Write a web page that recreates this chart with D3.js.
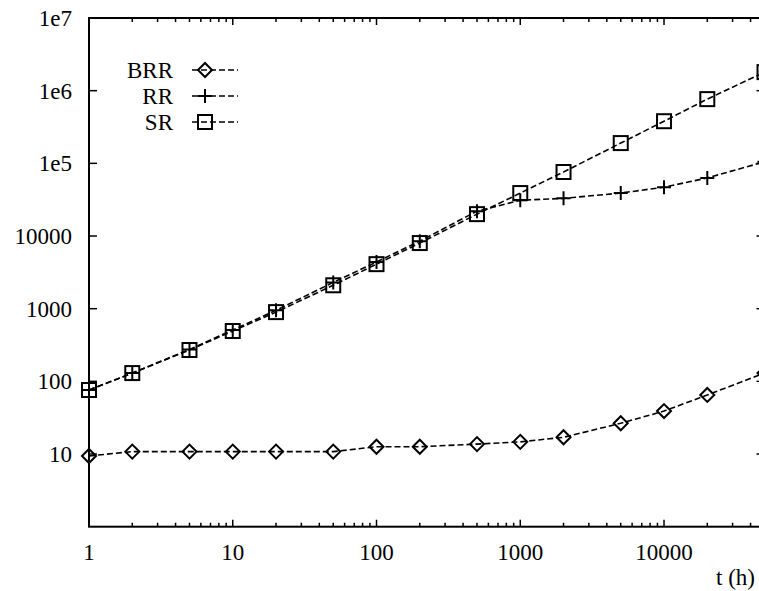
<!DOCTYPE html>
<html lang="en">
<head>
  <meta charset="UTF-8">
  <title>BRR / RR / SR</title>
  <script src="https://cdn.jsdelivr.net/npm/d3@7"></script>
  <style>
    * { margin: 0; padding: 0; }
    body { background: #fff; overflow: hidden; }
    svg { display: block; }
    text { font-family: "Liberation Serif", "DejaVu Serif", serif; font-size: 23px; fill: #000; }
  </style>
</head>
<body>
  <div id="chart"></div>
  <script>
  // data
  var hours = [1, 2, 5, 10, 20, 50, 100, 200, 500, 1000, 2000, 5000, 10000, 20000, 50000];
  var brr = [9.4, 10.8, 10.8, 10.8, 10.8, 10.8, 12.6, 12.6, 13.7, 14.7, 17, 26.5, 39, 65, 130];
  var rr  = [76, 130, 275, 510, 950, 2300, 4400, 8500, 22000, 31000, 33000, 39000, 47000, 63000, 105000];
  var sr  = [76, 130, 270, 493, 897, 2100, 4100, 8000, 20000, 39000, 76000, 190000, 380000, 765000, 1800000];
  var yTicks = [1e7, 1e6, 1e5, 1e4, 1e3, 100, 10];
  var yTickLabels = ["1e7", "1e6", "1e5", "10000", "1000", "100", "10"];
  var xTicks = [1, 10, 100, 1000, 10000];
  var seriesNames = ["BRR", "RR", "SR"];

  var width = 759, height = 591;
  var pLeft = 89, pRight = 764.5, pTop = 18, pBottom = 526.7;

  var svg = d3.select("#chart").append("svg")
      .attr("width", width)
      .attr("height", height);

  var x = d3.scaleLog().domain([1, 50000]).range([pLeft, pRight]);
  var y = d3.scaleLog().domain([1, 1e7]).range([pBottom, pTop]);

  // minor ticks on x
  var xMinor = [];
  for (var d = 1; d < 50000; d *= 10) {
    for (var k = 2; k <= 9; k++) if (d * k <= 50000) xMinor.push(d * k);
  }

  var ticks = svg.append("g").attr("stroke", "#000").attr("stroke-width", 1.5);
  // bottom and top ticks (inward)
  xTicks.forEach(function (t) {
    ticks.append("line").attr("x1", x(t)).attr("x2", x(t)).attr("y1", pBottom).attr("y2", pBottom - 7);
    ticks.append("line").attr("x1", x(t)).attr("x2", x(t)).attr("y1", pTop).attr("y2", pTop + 7);
  });
  xMinor.forEach(function (t) {
    ticks.append("line").attr("x1", x(t)).attr("x2", x(t)).attr("y1", pBottom).attr("y2", pBottom - 4);
    ticks.append("line").attr("x1", x(t)).attr("x2", x(t)).attr("y1", pTop).attr("y2", pTop + 4);
  });
  // left and right ticks
  yTicks.forEach(function (t) {
    ticks.append("line").attr("x1", pLeft).attr("x2", pLeft + 8).attr("y1", y(t)).attr("y2", y(t));
    ticks.append("line").attr("x1", pRight).attr("x2", pRight - 8).attr("y1", y(t)).attr("y2", y(t));
  });

  // frame
  svg.append("rect")
    .attr("x", pLeft).attr("y", pTop)
    .attr("width", pRight - pLeft).attr("height", pBottom - pTop)
    .attr("fill", "none").attr("stroke", "#000").attr("stroke-width", 2);

  // tick labels
  svg.selectAll(".ylab")
    .data(yTicks)
    .enter().append("text")
      .attr("class", "ylab")
      .attr("x", 72)
      .attr("y", function (d) { return y(d); })
      .attr("dy", "0.35em")
      .attr("text-anchor", "end")
      .text(function (d, i) { return yTickLabels[i]; });

  svg.selectAll(".xlab")
    .data(xTicks)
    .enter().append("text")
      .attr("class", "xlab")
      .attr("x", function (d) { return x(d); })
      .attr("y", 560)
      .attr("text-anchor", "middle")
      .text(function (d) { return d; });

  svg.append("text")
    .attr("x", 755).attr("y", 585)
    .attr("text-anchor", "end")
    .text("t (h)");

  // series
  var line = d3.line()
      .x(function (d) { return x(d[0]); })
      .y(function (d) { return y(d[1]); });

  function symbol(g, type, cx, cy) {
    if (type === "BRR") {
      g.append("path")
        .attr("d", "M" + (cx - 7) + "," + cy + "L" + cx + "," + (cy - 7) + "L" + (cx + 7) + "," + cy + "L" + cx + "," + (cy + 7) + "Z")
        .attr("fill", "none").attr("stroke", "#000").attr("stroke-width", 2);
    } else if (type === "RR") {
      g.append("path")
        .attr("d", "M" + (cx - 7) + "," + cy + "H" + (cx + 7) + "M" + cx + "," + (cy - 7) + "V" + (cy + 7))
        .attr("fill", "none").attr("stroke", "#000").attr("stroke-width", 2);
    } else {
      g.append("rect")
        .attr("x", cx - 7).attr("y", cy - 7).attr("width", 14).attr("height", 14)
        .attr("fill", "none").attr("stroke", "#000").attr("stroke-width", 2);
    }
  }

  var allSeries = [brr, rr, sr];
  allSeries.forEach(function (vals, i) {
    var pts = hours.map(function (h, j) { return [h, vals[j]]; });
    svg.append("path")
      .datum(pts)
      .attr("d", line)
      .attr("fill", "none")
      .attr("stroke", "#000")
      .attr("stroke-width", 1.6)
      .attr("stroke-dasharray", "6,3");
    var g = svg.append("g");
    pts.forEach(function (p) { symbol(g, seriesNames[i], x(p[0]), y(p[1])); });
  });

  // legend
  var legY = [70, 96, 122];
  seriesNames.forEach(function (name, i) {
    svg.append("text")
      .attr("x", 173).attr("y", legY[i]).attr("dy", "0.35em")
      .attr("text-anchor", "end").text(name);
    svg.append("line")
      .attr("x1", 192).attr("x2", 238).attr("y1", legY[i]).attr("y2", legY[i])
      .attr("stroke", "#000").attr("stroke-width", 1.6)
      .attr("stroke-dasharray", "6,3");
    symbol(svg.append("g"), name, 205, legY[i]);
  });
  </script>
</body>
</html>
